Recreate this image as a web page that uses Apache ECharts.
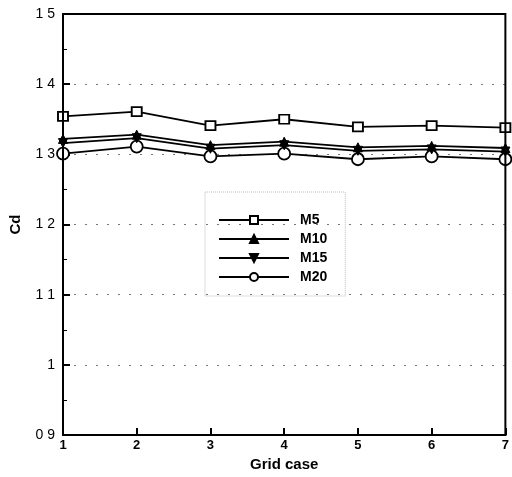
<!DOCTYPE html>
<html>
<head>
<meta charset="utf-8">
<script src="https://cdn.jsdelivr.net/npm/echarts@6/dist/echarts.min.js"></script>
<style>html,body{margin:0;padding:0;background:#fff;}#c{width:512px;height:477px;}</style>
</head>
<body>
<div id="c"></div>
<script>
var gridCases = [1, 2, 3, 4, 5, 6, 7];
var m5  = [1.354, 1.361, 1.341, 1.350, 1.339, 1.341, 1.338];
var m10 = [1.322, 1.328, 1.313, 1.318, 1.310, 1.312, 1.309];
var m15 = [1.316, 1.323, 1.308, 1.313, 1.305, 1.307, 1.304];
var m20 = [1.301, 1.311, 1.297, 1.301, 1.293, 1.297, 1.293];
var yTickValues = [0.9, 1.0, 1.1, 1.2, 1.3, 1.4, 1.5];
var yTickLabels = ['0 9', '1', '1 1', '1 2', '1 3', '1 4', '1 5'];

function pairs(ys) { return gridCases.map(function (x, i) { return [x, ys[i]]; }); }
function labelFor(v) {
  for (var i = 0; i < yTickValues.length; i++) {
    if (Math.abs(yTickValues[i] - v) < 1e-6) return yTickLabels[i];
  }
  return '';
}

var font = 'Liberation Sans, Arial, sans-serif';
var lineStyle = { color: '#000', width: 1.8 };

var chart = echarts.init(document.getElementById('c'));
chart.setOption({
  animation: false,
  backgroundColor: '#fff',
  grid: { left: 60, right: 5, top: 14, bottom: 40, show: true, borderColor: '#000', borderWidth: 2, z: 10 },
  legend: {
    left: 205, top: 192, orient: 'vertical',
    padding: [21, 18, 12, 13],
    itemWidth: 70, itemHeight: 10, itemGap: 5,
    borderColor: '#bbb', borderWidth: 1, borderType: 'dotted',
    textStyle: { fontFamily: font, fontWeight: 'bold', fontSize: 14, color: '#000', padding: [0, 0, 0, 6] },
    data: ['M5', 'M10', 'M15', 'M20']
  },
  xAxis: {
    type: 'value', min: 1, max: 7, interval: 1,
    name: 'Grid case', nameLocation: 'middle', nameGap: 22,
    nameTextStyle: { fontFamily: font, fontWeight: 'bold', fontSize: 15, color: '#000' },
    axisLine: { lineStyle: { color: '#000', width: 2 } },
    axisTick: { inside: true, length: 7, lineStyle: { color: '#000', width: 2 } },
    axisLabel: { fontFamily: font, fontWeight: 'bold', fontSize: 13, color: '#000', margin: 4 },
    splitLine: { show: false }
  },
  yAxis: {
    type: 'value', min: 0.9, max: 1.5, interval: 0.1,
    name: 'Cd', nameLocation: 'middle', nameGap: 40, nameRotate: 90,
    nameTextStyle: { fontFamily: font, fontWeight: 'bold', fontSize: 15, color: '#000' },
    axisLine: { lineStyle: { color: '#000', width: 2 } },
    axisTick: { inside: true, length: 7, lineStyle: { color: '#000', width: 2 } },
    minorTick: { show: true, splitNumber: 2, length: 4, lineStyle: { color: '#000', width: 1 } },
    axisLabel: { fontFamily: font, fontSize: 14, color: '#000', margin: 8, formatter: labelFor },
    splitLine: { show: true, showMinLine: false, showMaxLine: false, lineStyle: { color: '#777', width: 1, type: [2, 9] } }
  },
  series: [
    { name: 'M5', type: 'line', data: pairs(m5), symbol: 'rect', symbolSize: [10, 9],
      itemStyle: { color: '#fff', borderColor: '#000', borderWidth: 1.8 }, lineStyle: lineStyle, z: 4 },
    { name: 'M10', type: 'line', data: pairs(m10), symbol: 'triangle', symbolSize: 9,
      itemStyle: { color: '#000', borderColor: '#000', borderWidth: 1 }, lineStyle: lineStyle, z: 3 },
    { name: 'M15', type: 'line', data: pairs(m15), symbol: 'triangle', symbolRotate: 180, symbolSize: 9,
      itemStyle: { color: '#000', borderColor: '#000', borderWidth: 1 }, lineStyle: lineStyle, z: 3 },
    { name: 'M20', type: 'line', data: pairs(m20), symbol: 'circle', symbolSize: 12,
      itemStyle: { color: '#fff', borderColor: '#000', borderWidth: 1.8 }, lineStyle: lineStyle, z: 2 }
  ]
});
</script>
</body>
</html>
